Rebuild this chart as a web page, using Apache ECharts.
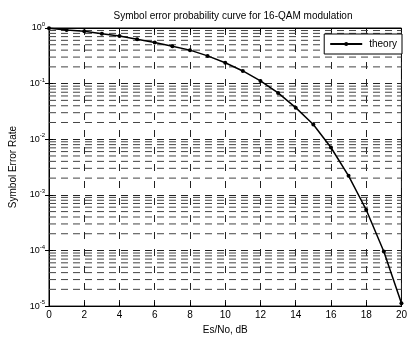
<!DOCTYPE html>
<html>
<head>
<meta charset="utf-8">
<script src="https://cdn.jsdelivr.net/npm/echarts@6/dist/echarts.min.js"></script>
<style>html,body{margin:0;padding:0;background:#fff}#c{width:410px;height:340px}</style>
</head>
<body>
<div id="c"></div>
<script>
// Data
var snrDb = [0,1,2,3,4,5,6,7,8,9,10,11,12,13,14,15,16,17,18,19,20];
var serTheory = [0.99,0.92,0.87,0.79,0.72,0.63,0.55,0.47,0.40,0.315,0.237,0.169,0.112,0.068,0.037,0.0184,0.0071,0.0022,0.00054,0.000096,0.0000112];
var xTicks = [0,2,4,6,8,10,12,14,16,18,20];
var yDecades = [1e-5,1e-4,1e-3,1e-2,1e-1,1];
var minorMantissas = [2,3,4,5,6,7,8,9];

var font = 'Liberation Sans, Arial, sans-serif';
var dash = [7, 5];

var xMin = xTicks[0], xMax = xTicks[xTicks.length - 1];
var minorSeries = [];
for (var i = 0; i < yDecades.length - 1; i++) {
  for (var j = 0; j < minorMantissas.length; j++) {
    var v = minorMantissas[j] * yDecades[i];
    minorSeries.push({
      name: 'minor', type: 'line', silent: true, symbol: 'none',
      data: [[xMin, v], [xMax, v]],
      lineStyle: { color: '#444', width: 1, type: dash },
      emphasis: { disabled: true }, tooltip: { show: false }, z: 1
    });
  }
}

var chart = echarts.init(document.getElementById('c'), null, { renderer: 'canvas' });
chart.setOption({
  animation: false,
  backgroundColor: '#fff',
  title: {
    text: 'Symbol error probability curve for 16-QAM modulation',
    left: 228, textAlign: 'center', top: 6,
    textStyle: { fontFamily: font, fontSize: 10, fontWeight: 'normal', color: '#000' }
  },
  legend: {
    data: ['theory'],
    right: 8, top: 34,
    orient: 'vertical',
    backgroundColor: '#fff',
    borderColor: '#000', borderWidth: 1, borderRadius: 0,
    padding: [5, 5, 5, 5],
    itemWidth: 32, itemHeight: 5, itemGap: 4,
    textStyle: { fontFamily: font, fontSize: 10, color: '#000', padding: [0, 0, 0, 2] }
  },
  grid: { left: 48, right: 2, top: 28, bottom: 30, show: true, borderColor: '#000', borderWidth: 1, backgroundColor: 'transparent' },
  xAxis: [{
    type: 'value', min: 0, max: 20, interval: 2,
    name: 'Es/No, dB', nameLocation: 'middle', nameGap: 18,
    nameTextStyle: { fontFamily: font, fontSize: 10, color: '#000' },
    axisLine: { show: true, lineStyle: { color: '#000', width: 1 } },
    axisTick: { show: true, inside: true, length: 4, lineStyle: { color: '#000' } },
    axisLabel: { fontFamily: font, fontSize: 10, color: '#000', margin: 4,
      formatter: function (v) { return xTicks.indexOf(v) >= 0 ? String(v) : ''; } },
    splitLine: { show: true, lineStyle: { color: '#222', width: 1, type: [7, 10] } }
  }, {
    type: 'value', min: 0, max: 20, interval: 2, position: 'top',
    axisLine: { show: true, lineStyle: { color: '#000' } },
    axisTick: { show: true, inside: true, length: 4, lineStyle: { color: '#000' } },
    axisLabel: { show: false }, splitLine: { show: false }
  }],
  yAxis: [{
    type: 'log', logBase: 10, min: 1e-5, max: 1,
    name: 'Symbol Error Rate', nameLocation: 'middle', nameGap: 31,
    nameTextStyle: { fontFamily: font, fontSize: 10, color: '#000' },
    axisLine: { show: true, lineStyle: { color: '#000', width: 1 } },
    axisTick: { show: true, inside: true, length: 4, lineStyle: { color: '#000' } },
    axisLabel: {
      margin: 4, fontFamily: font, color: '#000',
      formatter: function (v) {
        var e = Math.round(Math.log10(v));
        return '{b|10}{s|' + e + '}';
      },
      rich: {
        b: { fontFamily: font, fontSize: 9, color: '#000' },
        s: { fontFamily: font, fontSize: 6, color: '#000', padding: [0, 0, 7, 0] }
      }
    },
    splitLine: { show: true, lineStyle: { color: '#222', width: 1, type: dash } }
  }, {
    type: 'log', logBase: 10, min: 1e-5, max: 1, position: 'right',
    axisLine: { show: true, lineStyle: { color: '#000' } },
    axisTick: { show: true, inside: true, length: 4, lineStyle: { color: '#000' } },
    axisLabel: { show: false }, splitLine: { show: false }
  }],
  series: minorSeries.concat([{
    name: 'theory', type: 'line',
    data: snrDb.map(function (x, i) { return [x, serTheory[i]]; }),
    symbol: 'circle', symbolSize: 4, showSymbol: true,
    itemStyle: { color: '#000' },
    lineStyle: { color: '#000', width: 1.5 },
    z: 5
  }])
});
</script>
</body>
</html>
